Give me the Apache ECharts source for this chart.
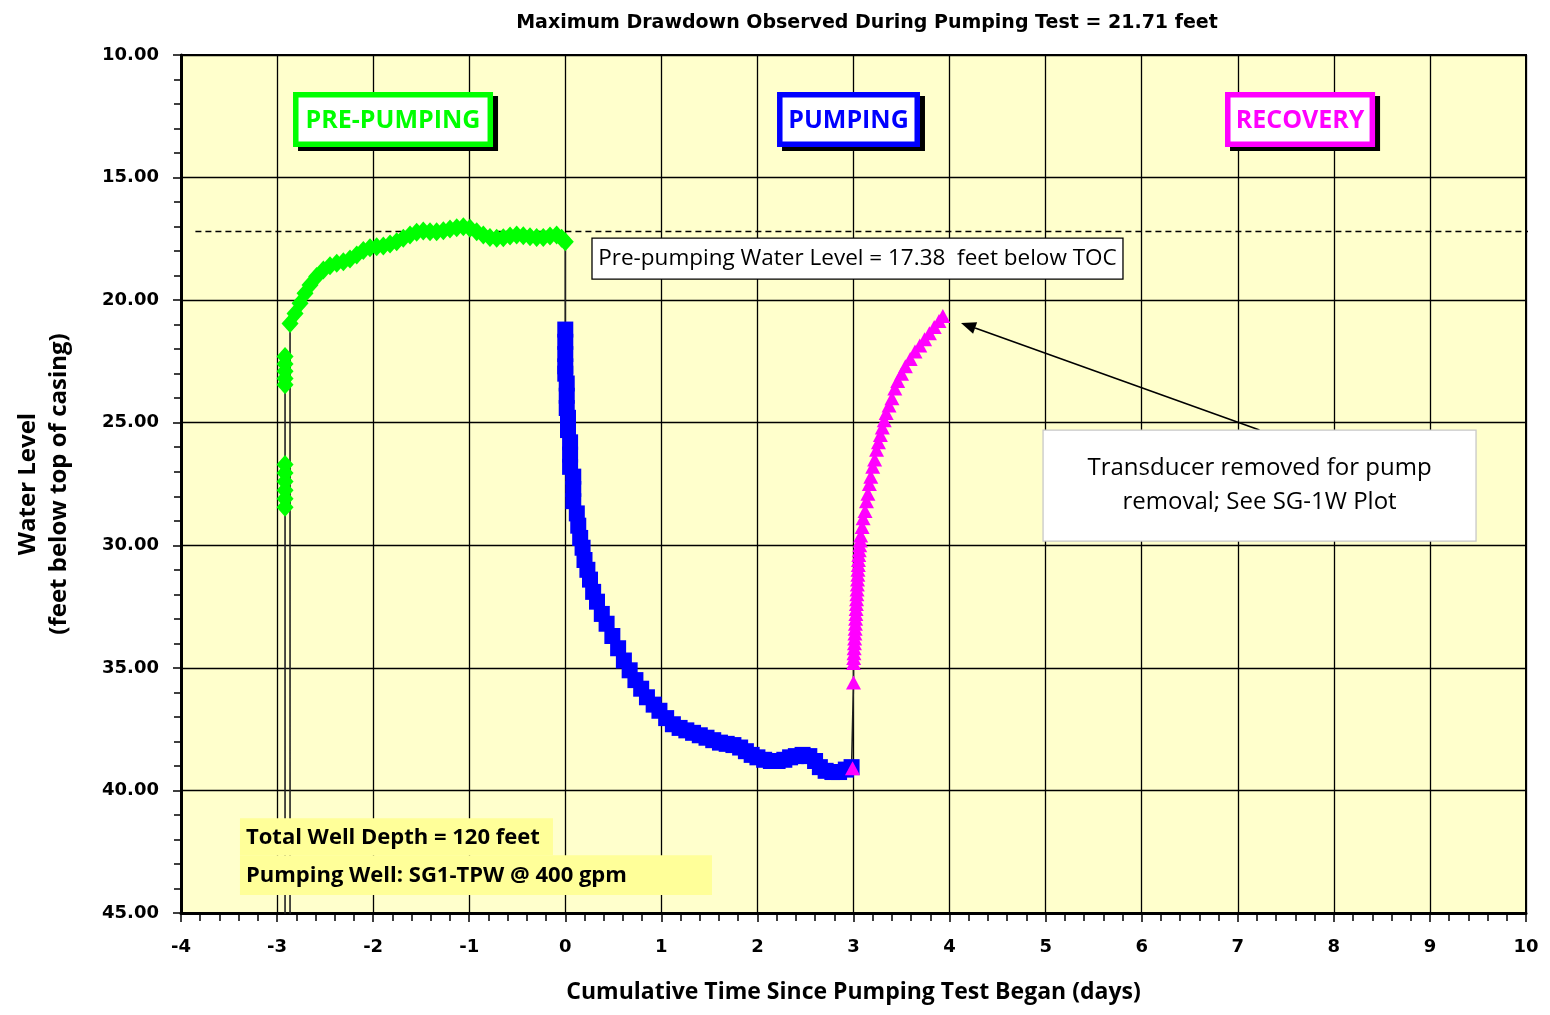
<!DOCTYPE html>
<html><head><meta charset="utf-8">
<script src="https://cdn.jsdelivr.net/npm/echarts@6/dist/echarts.min.js"></script>
<style>html,body{margin:0;padding:0;background:#fff}#c{width:1550px;height:1015px}</style>
</head><body><div id="c"></div>
<script>
// ---- data ----
const titleText = 'Maximum Drawdown Observed During Pumping Test = 21.71 feet';
const xTickMin = -4, xTickMax = 10, xTickStep = 1;
const yTickMin = 10, yTickMax = 45, yTickStep = 5;

// pre-pumping readings while the transducer was being set
const preCluster = [[-2.917,22.3],[-2.917,22.6],[-2.917,22.9],[-2.917,23.2],[-2.917,23.45],
  [-2.917,26.7],[-2.917,27.05],[-2.917,27.4],[-2.917,27.75],[-2.917,28.1],[-2.917,28.45]];
// trace drops below the bottom of the axis at these times
const offScaleDays = [-2.917, -2.865];
const offScaleLevel = 50;
// pre-pumping recovery curve
const preCurve = [[-2.865,20.95],[-2.813,20.54],[-2.761,20.13],[-2.709,19.72],[-2.657,19.38],[-2.588,19.04],
  [-2.518,18.77],[-2.449,18.6],[-2.379,18.5],[-2.31,18.43],[-2.241,18.32],[-2.171,18.16],[-2.102,17.98],
  [-2.033,17.86],[-1.963,17.82],[-1.894,17.79],[-1.824,17.71],[-1.755,17.62],[-1.686,17.48],[-1.616,17.34],
  [-1.547,17.23],[-1.478,17.18],[-1.408,17.21],[-1.339,17.21],[-1.269,17.17],[-1.2,17.1],[-1.13,17.05],
  [-1.061,17.01],[-0.992,17.07],[-0.922,17.21],[-0.853,17.34],[-0.784,17.44],[-0.714,17.48],[-0.645,17.45],
  [-0.575,17.38],[-0.506,17.34],[-0.437,17.37],[-0.367,17.41],[-0.298,17.44],[-0.229,17.44],[-0.159,17.38],
  [-0.09,17.34],[-0.038,17.48],[0.0,17.62]];
const pumping = [[0,21.2],[0,21.7],[0,22.2],[0,22.7],[0,23.0],[0.015,23.4],[0.015,23.9],[0.015,24.4],
  [0.028,24.8],[0.028,25.3],[0.05,25.8],[0.05,26.3],[0.05,26.8],[0.083,27.2],[0.083,27.7],[0.083,28.2],
  [0.12,28.7],[0.135,29.2],[0.155,29.7],[0.18,30.1],[0.2,30.6],[0.23,31.0],[0.257,31.4],[0.29,31.9],
  [0.33,32.3],[0.38,32.8],[0.43,33.2],[0.49,33.7],[0.55,34.2],[0.61,34.7],[0.67,35.1],[0.73,35.5],
  [0.79,35.85],[0.85,36.2],[0.92,36.5],[0.98,36.75],[1.05,37.05],[1.12,37.3],[1.19,37.45],[1.26,37.55],
  [1.33,37.65],[1.4,37.75],[1.47,37.85],[1.54,37.95],[1.61,38.05],[1.68,38.1],[1.75,38.15],[1.82,38.25],
  [1.88,38.4],[1.94,38.55],[2.0,38.65],[2.07,38.75],[2.14,38.8],[2.21,38.8],[2.28,38.75],[2.34,38.65],
  [2.4,38.6],[2.47,38.55],[2.54,38.6],[2.6,38.8],[2.65,39.05],[2.71,39.2],[2.78,39.25],[2.85,39.25],
  [2.92,39.15],[2.98,39.05]];
const recovery = [[2.99,39.1],[3.0,35.6],[3.0,34.8],[3.002,34.6],[3.005,34.4],[3.007,34.2],[3.01,34.0],
  [3.012,33.8],[3.015,33.6],[3.017,33.4],[3.02,33.2],[3.022,33.0],[3.025,32.8],[3.027,32.6],[3.03,32.4],
  [3.032,32.2],[3.035,32.0],[3.037,31.8],[3.04,31.6],[3.042,31.4],[3.045,31.2],[3.047,31.0],[3.05,30.8],
  [3.052,30.6],[3.055,30.4],[3.06,30.2],[3.065,30.0],[3.07,29.8],[3.075,29.6],[3.09,29.25],[3.1,28.9],
  [3.12,28.6],[3.135,28.2],[3.15,27.9],[3.165,27.5],[3.18,27.2],
  [3.2,26.8],[3.22,26.5],[3.24,26.1],[3.26,25.8],[3.28,25.5],[3.3,25.2],[3.32,24.9],[3.34,24.6],
  [3.37,24.3],[3.4,24.0],[3.43,23.6],[3.46,23.3],[3.5,23.0],[3.54,22.7],[3.59,22.4],[3.64,22.1],
  [3.69,21.85],[3.74,21.6],[3.79,21.35],[3.84,21.1],[3.89,20.85],[3.93,20.65]];
// dashed pre-pumping water level line (as drawn)
const staticLevelLine = [[-3.85,17.2],[10.07,17.2]];

// ---- annotations (data coordinates) ----
const phaseBoxes = [
  {label:'PRE-PUMPING', color:'#00FF00', x0:-2.834, x1:-0.752, y0:11.51, y1:13.75},
  {label:'PUMPING',     color:'#0000FF', x0:2.204,  x1:3.692,  y0:11.51, y1:13.75},
  {label:'RECOVERY',    color:'#FF00FF', x0:6.867,  x1:8.429,  y0:11.51, y1:13.75}
];
const staticNote = {text:'Pre-pumping Water Level = 17.38  feet below TOC', x0:0.278, x1:5.805, y0:17.47, y1:19.14};
const transNote = {text:'Transducer removed for pump\nremoval; See SG-1W Plot', x0:4.973, x1:9.48, y0:25.3, y1:29.83};
const arrowFrom = [7.226, 25.3], arrowTo = [4.119, 20.93];
const wellNotes = [
  {text:'Total Well Depth = 120 feet', x0:-3.386, x1:-0.128, y0:41.13, y1:42.64},
  {text:'Pumping Well: SG1-TPW @ 400 gpm', x0:-3.386, x1:1.527, y0:42.64, y1:44.27}
];

const traceLine = preCluster
  .concat(offScaleDays.map(d => [d, offScaleLevel]))
  .concat(preCurve, pumping, recovery);

const labelFont = '"DejaVu Sans", Verdana, sans-serif';
const calFont = '"Open Sans", "Noto Sans", sans-serif';

const option = {
  backgroundColor: '#fff',
  animation: false,
  title: {
    text: titleText, left: 862, top: 9, textAlign: 'center',
    textStyle: {fontFamily: labelFont, fontWeight: 'bold', fontSize: 19, color: '#000'}
  },
  grid: {left: 181, right: 24, top: 55, bottom: 102, show: true, backgroundColor: '#FFFFCC',
         borderColor: '#000', borderWidth: 2},
  xAxis: [{
    type: 'value', min: xTickMin, max: xTickMax, interval: xTickStep, position: 'bottom',
    name: 'Cumulative Time Since Pumping Test Began (days)', nameLocation: 'middle', nameGap: 68,
    nameTextStyle: {fontFamily: calFont, fontWeight: 'bold', fontSize: 23, color: '#000'},
    axisLine: {show: true, onZero: false, lineStyle: {color: '#000', width: 3}},
    axisTick: {show: true, inside: false, length: 9, lineStyle: {color: '#000', width: 1.5}},
    minorTick: {show: true, splitNumber: 5, length: 7, lineStyle: {color: '#000', width: 1.5}},
    axisLabel: {margin: 25, fontFamily: labelFont, fontWeight: 'bold', fontSize: 18, color: '#000',
                formatter: v => String(v)},
    splitLine: {show: true, lineStyle: {color: '#000', width: 1.3}}
  }, {
    type: 'value', min: xTickMin, max: xTickMax, interval: xTickStep, position: 'bottom',
    axisLine: {show: false}, axisLabel: {show: false}, splitLine: {show: false},
    axisTick: {show: false},
    minorTick: {show: true, splitNumber: 5, length: 8, lineStyle: {color: '#000', width: 1.5}},
    axisPointer: {show: false}
  }],
  yAxis: {
    type: 'value', inverse: true, min: yTickMin, max: yTickMax, interval: yTickStep,
    name: 'Water Level\n(feet below top of casing)', nameLocation: 'middle', nameGap: 106, nameRotate: 90,
    nameTextStyle: {fontFamily: calFont, fontWeight: 'bold', fontSize: 24, color: '#000', lineHeight: 31},
    axisLine: {show: true, onZero: false, lineStyle: {color: '#000', width: 3}},
    axisTick: {show: true, length: 8, lineStyle: {color: '#000', width: 1.5}},
    minorTick: {show: true, splitNumber: 5, length: 7, lineStyle: {color: '#000', width: 1.5}},
    axisLabel: {margin: 22, fontFamily: labelFont, fontWeight: 'bold', fontSize: 18, color: '#000',
                formatter: v => v.toFixed(2)},
    splitLine: {show: true, lineStyle: {color: '#000', width: 1.3}}
  },
  series: [
    {type: 'line', data: staticLevelLine, showSymbol: false, symbol: 'none', clip: false, silent: true,
     lineStyle: {color: '#000', width: 1.5, type: [6, 4]}, z: 3},
    {type: 'line', data: traceLine, showSymbol: false, symbol: 'none', clip: true,
     lineStyle: {color: '#222', width: 1.6}, z: 4},
    {type: 'scatter', data: preCluster.concat(preCurve), symbol: 'diamond', symbolSize: [17, 19],
     itemStyle: {color: '#00FF00', opacity: 1}, z: 5},
    {type: 'scatter', data: pumping, symbol: 'rect', symbolSize: 16,
     itemStyle: {color: '#0000FF', opacity: 1}, z: 6},
    {type: 'scatter', data: recovery, symbol: 'triangle', symbolSize: [15, 14],
     itemStyle: {color: '#FF00FF', opacity: 1}, z: 7}
  ]
};

const chart = echarts.init(document.getElementById('c'), null, {renderer: 'canvas'});
chart.setOption(option);

const P = (x, y) => chart.convertToPixel({xAxisIndex: 0, yAxisIndex: 0}, [x, y]);
const els = [];
phaseBoxes.forEach(b => {
  const a = P(b.x0, b.y0), c = P(b.x1, b.y1);
  const w = c[0] - a[0], h = c[1] - a[1];
  els.push({type: 'rect', z: 100, shape: {x: a[0] + 5, y: a[1] + 4, width: w, height: h}, style: {fill: '#000'}});
  els.push({type: 'rect', z: 101, shape: {x: a[0] + 2.75, y: a[1] + 2.75, width: w - 5.5, height: h - 5.5},
            style: {fill: '#fff', stroke: b.color, lineWidth: 5.5}});
  els.push({type: 'text', z: 102, x: a[0] + w / 2, y: a[1] + h / 2 + 1,
            style: {text: b.label, fill: b.color, font: 'bold 25px ' + calFont,
                    align: 'center', verticalAlign: 'middle', textAlign: 'center', textVerticalAlign: 'middle'}});
});
(function () {
  const a = P(staticNote.x0, staticNote.y0), c = P(staticNote.x1, staticNote.y1);
  els.push({type: 'rect', z: 100, shape: {x: a[0], y: a[1], width: c[0] - a[0], height: c[1] - a[1]},
            style: {fill: '#fff', stroke: '#000', lineWidth: 1.3}});
  els.push({type: 'text', z: 101, x: (a[0] + c[0]) / 2, y: (a[1] + c[1]) / 2,
            style: {text: staticNote.text, fill: '#000', font: '22.5px ' + calFont,
                    align: 'center', verticalAlign: 'middle', textAlign: 'center', textVerticalAlign: 'middle'}});
})();
(function () {
  const a = P(arrowFrom[0], arrowFrom[1]), b = P(arrowTo[0], arrowTo[1]);
  const dx = b[0] - a[0], dy = b[1] - a[1], L = Math.hypot(dx, dy), ux = dx / L, uy = dy / L;
  const hl = 15, hw = 6;
  const bx = b[0] - ux * hl, by = b[1] - uy * hl;
  els.push({type: 'line', z: 99, shape: {x1: a[0], y1: a[1], x2: bx, y2: by}, style: {stroke: '#000', lineWidth: 1.6}});
  els.push({type: 'polygon', z: 99, shape: {points: [[b[0], b[1]], [bx - uy * hw, by + ux * hw], [bx + uy * hw, by - ux * hw]]},
            style: {fill: '#000'}});
  const p = P(transNote.x0, transNote.y0), q = P(transNote.x1, transNote.y1);
  els.push({type: 'rect', z: 100, shape: {x: p[0], y: p[1], width: q[0] - p[0], height: q[1] - p[1]},
            style: {fill: '#fff', stroke: '#c8c8c8', lineWidth: 1.3}});
  els.push({type: 'text', z: 101, x: (p[0] + q[0]) / 2, y: (p[1] + q[1]) / 2,
            style: {text: transNote.text, fill: '#000', font: '24px ' + calFont, lineHeight: 34,
                    align: 'center', verticalAlign: 'middle', textAlign: 'center', textVerticalAlign: 'middle'}});
})();
wellNotes.forEach(n => {
  const a = P(n.x0, n.y0), c = P(n.x1, n.y1);
  els.push({type: 'rect', z: 100, shape: {x: a[0], y: a[1], width: c[0] - a[0], height: c[1] - a[1]},
            style: {fill: '#FFFF99'}});
  els.push({type: 'text', z: 101, x: a[0] + 6, y: (a[1] + c[1]) / 2 + 1,
            style: {text: n.text, fill: '#000', font: 'bold 22px ' + calFont,
                    align: 'left', verticalAlign: 'middle', textAlign: 'left', textVerticalAlign: 'middle'}});
});
chart.setOption({graphic: {elements: els}});
</script>
</body></html>
